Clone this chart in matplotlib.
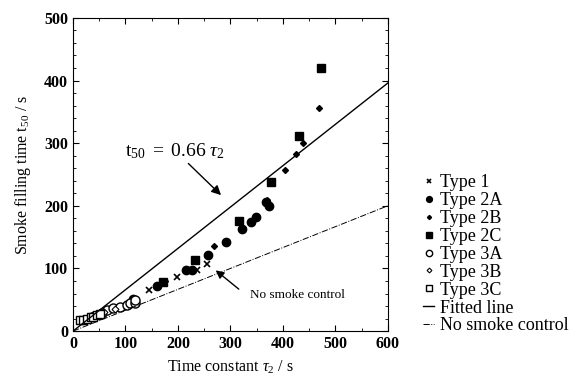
import matplotlib
matplotlib.use('Agg')
import matplotlib.pyplot as plt
from matplotlib.ticker import MultipleLocator

plt.rcParams['font.family'] = ['Liberation Serif', 'DejaVu Serif']
plt.rcParams['mathtext.fontset'] = 'custom'
plt.rcParams['mathtext.rm'] = 'Liberation Serif'
plt.rcParams['mathtext.it'] = 'Liberation Serif:italic'

# data
type1_x = [145, 198, 236, 255]
type1_y = [65, 87, 98, 107]
type2a_x = [115, 160, 215, 227, 258, 291, 322, 339, 349, 368, 373]
type2a_y = [52, 72, 98, 97, 122, 143, 163, 174, 182, 206, 200]
type2b_x = [175, 268, 370, 404, 425, 438, 468]
type2b_y = [80, 136, 210, 257, 283, 300, 356]
type2c_x = [172, 232, 316, 377, 430, 472]
type2c_y = [78, 113, 176, 238, 312, 420]
type3a_x = [40, 55, 65, 76, 89, 103, 108, 118, 118]
type3a_y = [24, 29, 33, 37, 38, 41, 45, 45, 50]
type3b_x = [60, 80]
type3b_y = [30, 35]
type3c_x = [13, 20, 27, 35, 38, 45, 52]
type3c_y = [17, 18, 20, 22, 23, 25, 27]

line_x = [0, 600]
fit_slope = 0.66
nocontrol_slope = 1 / 3

fig = plt.figure(figsize=(5.84, 3.81), dpi=100)
ax = fig.add_axes([0.125, 0.131, 0.539, 0.822])

ax.plot(type1_x, type1_y, 'x', color='black', ms=5, mew=1.2, label='Type 1')
ax.plot(type2a_x, type2a_y, 'o', color='black', ms=6, label='Type 2A')
ax.plot(type2b_x, type2b_y, 'D', color='black', ms=3, label='Type 2B')
ax.plot(type2c_x, type2c_y, 's', color='black', ms=5.5, label='Type 2C')
ax.plot(type3a_x, type3a_y, 'o', mfc='white', mec='black', ms=6.5, mew=1, label='Type 3A')
ax.plot(type3b_x, type3b_y, 'D', mfc='white', mec='black', ms=3.5, mew=0.8, label='Type 3B')
ax.plot(type3c_x, type3c_y, 's', mfc='white', mec='black', ms=5.5, mew=1, label='Type 3C')

ax.plot(line_x, [fit_slope * x for x in line_x], '-', color='black', lw=1, label='Fitted line')
ax.plot(line_x, [nocontrol_slope * x for x in line_x], '-.', color='black', lw=0.7,
        label='No smoke control')

ax.annotate(r'$\mathrm{t}_{50}\ =\ 0.66\ \mathit{\tau}_2$', xy=(286, 214), xytext=(195, 272),
            fontsize=14, ha='center', va='bottom',
            arrowprops=dict(arrowstyle='-|>', color='black', lw=1, mutation_scale=14,
                            shrinkA=0))
ax.annotate('', xy=(272, 97), xytext=(316, 67),
            arrowprops=dict(arrowstyle='-|>', color='black', lw=1, mutation_scale=12,
                            shrinkA=0, shrinkB=0))
ax.text(337, 58, 'No smoke control', fontsize=9.5, ha='left', va='center')

ax.set_xlim(0, 600)
ax.set_ylim(0, 500)
ax.xaxis.set_major_locator(MultipleLocator(100))
ax.yaxis.set_major_locator(MultipleLocator(100))
ax.xaxis.set_minor_locator(MultipleLocator(50))
ax.yaxis.set_minor_locator(MultipleLocator(20))
ax.tick_params(which='both', direction='in', top=True, right=True, labelsize=11.5)
ax.tick_params(which='major', length=4)
ax.tick_params(which='minor', length=2)
for lab in ax.get_xticklabels() + ax.get_yticklabels():
    lab.set_fontweight('bold')

ax.set_xlabel(r'Time constant $\mathit{\tau}_2$ / s', fontsize=11.5, labelpad=5)
ax.set_ylabel(r'Smoke filling time t$_{50}$ / s', fontsize=11.5, labelpad=8)

ax.legend(loc='center left', bbox_to_anchor=(1.09, 0.245), frameon=False, fontsize=13,
          handlelength=0.6, handletextpad=0.3, labelspacing=0.05, borderaxespad=0,
          markerscale=0.7)

plt.savefig('out.png')
